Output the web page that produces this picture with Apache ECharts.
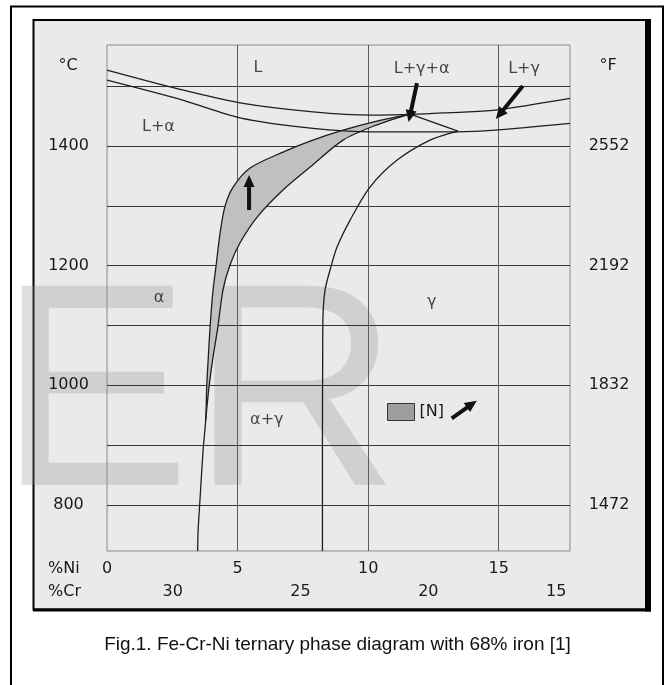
<!DOCTYPE html>
<html>
<head>
<meta charset="utf-8">
<script src="https://cdn.jsdelivr.net/npm/echarts@6/dist/echarts.min.js"></script>
<style>
html,body{margin:0;padding:0;background:#fff;}
#c{width:665px;height:685px;}
</style>
</head>
<body>
<div id="c"></div>
<script>
// ---------- data (Ni wt% , temperature °C) ----------
const T_MIN = 723, T_MAX = 1569;          // °C range of the plot
const NI_MIN = 0, NI_MAX = 17.73;         // %Ni range of the plot
const CR_MIN = 14.46, CR_MAX = 32.57;     // matching %Cr range (reversed)

const T_GRID = [800, 900, 1000, 1100, 1200, 1300, 1400, 1500];
const T_LABELS = [800, 1000, 1200, 1400];
const F_LABELS = [1472, 1832, 2192, 2552];
const NI_GRID = [5, 10, 15];
const NI_LABELS = [0, 5, 10, 15];
const CR_LABELS = [30, 25, 20, 15];

// liquidus (upper) and solidus (lower) curves
const LIQ_UPPER = [[0,1527.0],[2.80,1494.8],[5.09,1472.4],[7.89,1457.3],[10.15,1451.8],[11.72,1453.0],[13.14,1456.0],[14.86,1460.2],[17.73,1479.7]];
const LIQ_LOWER = [[0,1510.3],[2.80,1478.1],[5.09,1447.3],[7.89,1429.6],[10.15,1423.9],[13.40,1423.9],[14.86,1426.7],[17.73,1437.9]];

// shaded [N] band: upper-left edge and lower-right edge (tip -> merge)
const BAND_UPPER = [[11.61,1453.5],[10.26,1441.0],[9.04,1426.7],[7.78,1408.4],[6.74,1390.0],[5.48,1363.2],[4.83,1331.5],[4.52,1299.7],[4.33,1254.6],[4.18,1201.1],[4.05,1154.3],[3.95,1099.1],[3.88,1047.3],[3.82,998.9],[3.78,942.0]];
const BAND_LOWER = [[11.61,1453.5],[10.26,1434.3],[9.04,1410.0],[7.78,1364.9],[6.74,1326.5],[5.75,1281.3],[5.09,1237.9],[4.71,1201.1],[4.44,1159.3],[4.25,1099.1],[4.06,1047.3],[3.91,998.9],[3.78,942.0]];
// single boundary below the band
const FERRITE_LINE = [[3.78,942.0],[3.68,891.9],[3.56,808.3],[3.49,758.2],[3.47,723]];

// three-phase triangle edge and gamma boundary
const TRI_EDGE = [[11.61,1453.5],[13.44,1425.1]];
const GAMMA_LINE = [[13.44,1425.1],[12.37,1410.0],[11.11,1376.6],[10.07,1331.5],[9.31,1276.3],[8.81,1231.2],[8.54,1192.7],[8.35,1159.3],[8.27,1114.2],[8.26,1059.0],[8.25,900],[8.25,723]];

// arrows: [tailNi, tailT, headNi, headT]
const ARROWS = [
  [5.44,1293.0,5.44,1351.5],
  [11.87,1505.3,11.55,1440.1],
  [15.92,1500.3,14.89,1445.1],
  [13.20,944.9,14.16,974.3]
];

// phase field labels
const PHASE_NAMES = ['L','L+α','L+γ+α','L+γ','α','γ','α+γ'];
const PHASE_POS = [[5.78,1530.4],[1.97,1432.3],[12.05,1529.5],[15.97,1529.5],[1.99,1145.9],[12.44,1139.8],[6.12,942.0]];

const LEGEND_NAME = '[N]';
const CAPTION = 'Fig.1. Fe-Cr-Ni ternary phase diagram with 68% iron [1]';

// ---------- chart ----------
const FONT = '"DejaVu Sans", sans-serif';
const TXT = '#1a1a1a';
const cToF = c => c * 9 / 5 + 32;
const plain = v => String(v);

const chart = echarts.init(document.getElementById('c'), null, {renderer: 'canvas'});

const curveStyle = {color: '#1e1e1e', width: 1.3};
function curve(data) {
  return {type: 'line', data: data, smooth: 0.3, symbol: 'none', showSymbol: false,
          lineStyle: curveStyle, silent: true, z: 3, xAxisIndex: 0, yAxisIndex: 0};
}

const bandPolygon = BAND_UPPER.concat(BAND_LOWER.slice(1, -1).reverse());

const labelStyle = {fontFamily: FONT, fontSize: 16, color: TXT, formatter: plain};

const option = {
  animation: false,
  backgroundColor: '#ffffff',
  grid: {left: 107, top: 45, width: 463, height: 506, show: true, borderColor: '#8a8a8a',
         borderWidth: 1, backgroundColor: 'transparent', containLabel: false, outerBoundsMode: 'none'},
  xAxis: [
    {type: 'value', min: NI_MIN, max: NI_MAX, position: 'bottom',
     axisLine: {show: false}, axisTick: {show: false, customValues: NI_GRID},
     axisLabel: Object.assign({customValues: NI_LABELS, margin: 10}, labelStyle),
     splitLine: {show: true, lineStyle: {color: '#5e5e5e', width: 1}}},
    {type: 'value', min: CR_MIN, max: CR_MAX, inverse: true, position: 'bottom', offset: 23,
     axisLine: {show: false}, axisTick: {show: false},
     axisLabel: Object.assign({customValues: CR_LABELS, margin: 10}, labelStyle),
     splitLine: {show: false}}
  ],
  yAxis: [
    {type: 'value', min: T_MIN, max: T_MAX, position: 'left',
     axisLine: {show: false}, axisTick: {show: false, customValues: T_GRID},
     axisLabel: Object.assign({customValues: T_LABELS, margin: 38.5, align: 'center'}, labelStyle),
     splitLine: {show: true, lineStyle: {color: '#353535', width: 1.2}}},
    {type: 'value', min: cToF(T_MIN), max: cToF(T_MAX), position: 'right',
     axisLine: {show: false}, axisTick: {show: false},
     axisLabel: Object.assign({customValues: F_LABELS, margin: 39, align: 'center'}, labelStyle),
     splitLine: {show: false}}
  ],
  legend: {
    data: [{name: LEGEND_NAME, icon: 'rect', itemStyle: {color: '#9e9e9e', borderColor: '#333', borderWidth: 1}}],
    left: 387, top: 403, padding: 0, itemWidth: 27, itemHeight: 17, selectedMode: false,
    textStyle: {fontFamily: FONT, fontSize: 16, color: TXT}
  },
  graphic: [
    {type: 'rect', z: -30, silent: true, shape: {x: 11, y: 6.5, width: 652, height: 700},
     style: {fill: '#fff', stroke: '#000', lineWidth: 2}},
    {type: 'rect', z: -20, silent: true, shape: {x: 33.5, y: 20, width: 613, height: 589.5},
     style: {fill: '#e9eaea', stroke: '#000', lineWidth: 2}},
    {type: 'rect', z: -19, silent: true, shape: {x: 645, y: 19, width: 6, height: 592.5},
     style: {fill: '#000'}},
    {type: 'rect', z: -19, silent: true, shape: {x: 33, y: 608.5, width: 618, height: 3},
     style: {fill: '#000'}},
    {type: 'text', z: -5, silent: true, x: -2, y: 405,
     style: {text: 'ER', font: '289px "Liberation Sans", Arial, sans-serif', fill: 'rgba(150,150,150,0.30)',
             verticalAlign: 'middle', align: 'left'}},
    {type: 'text', z: 10, silent: true, x: 68, y: 66,
     style: {text: '°C', font: '16px ' + FONT, fill: TXT, align: 'center', verticalAlign: 'middle'}},
    {type: 'text', z: 10, silent: true, x: 608, y: 66,
     style: {text: '°F', font: '16px ' + FONT, fill: TXT, align: 'center', verticalAlign: 'middle'}},
    {type: 'text', z: 10, silent: true, x: 48, y: 569,
     style: {text: '%Ni', font: '16px ' + FONT, fill: TXT, align: 'left', verticalAlign: 'middle'}},
    {type: 'text', z: 10, silent: true, x: 48, y: 592,
     style: {text: '%Cr', font: '16px ' + FONT, fill: TXT, align: 'left', verticalAlign: 'middle'}},
    {type: 'text', z: 10, silent: true, x: 337.5, y: 645,
     style: {text: CAPTION, font: '19px "Liberation Sans", Arial, sans-serif', fill: '#111', align: 'center', verticalAlign: 'middle'}}
  ],
  series: [
    {
      type: 'custom', name: LEGEND_NAME, coordinateSystem: 'cartesian2d', xAxisIndex: 0, yAxisIndex: 0,
      data: [BAND_UPPER[0]], silent: true, z: 2,
      itemStyle: {color: '#c0c0c0'},
      renderItem: function (params, api) {
        const pts = bandPolygon.map(p => api.coord(p));
        return {type: 'polygon', shape: {points: pts, smooth: 0.3}, style: {fill: '#c0c0c0', stroke: null}};
      }
    },
    curve(LIQ_UPPER),
    curve(LIQ_LOWER),
    curve(BAND_UPPER.concat(FERRITE_LINE.slice(1))),
    curve(BAND_LOWER),
    Object.assign(curve(TRI_EDGE), {smooth: false}),
    curve(GAMMA_LINE),
    {
      type: 'custom', coordinateSystem: 'cartesian2d', xAxisIndex: 0, yAxisIndex: 0,
      data: ARROWS, silent: true, z: 6,
      renderItem: function (params, api) {
        const a = api.coord([api.value(0), api.value(1)]);
        const b = api.coord([api.value(2), api.value(3)]);
        const dx = b[0] - a[0], dy = b[1] - a[1];
        const len = Math.sqrt(dx * dx + dy * dy);
        const ux = dx / len, uy = dy / len, px = -uy, py = ux;
        const sw = 2, hw = 5.5, hl = 12;
        const hb = [b[0] - ux * hl, b[1] - uy * hl];
        const pts = [
          [a[0] + px * sw, a[1] + py * sw],
          [hb[0] + px * sw, hb[1] + py * sw],
          [hb[0] + px * hw, hb[1] + py * hw],
          [b[0], b[1]],
          [hb[0] - px * hw, hb[1] - py * hw],
          [hb[0] - px * sw, hb[1] - py * sw],
          [a[0] - px * sw, a[1] - py * sw]
        ];
        return {type: 'polygon', shape: {points: pts}, style: {fill: '#111'}};
      }
    },
    {
      type: 'scatter', xAxisIndex: 0, yAxisIndex: 0, silent: true, z: 7,
      data: PHASE_NAMES.map((n, i) => ({name: n, value: PHASE_POS[i]})),
      symbol: 'circle', symbolSize: 1, itemStyle: {color: 'rgba(0,0,0,0)'},
      label: {show: true, position: 'inside', formatter: '{b}', fontFamily: FONT, fontSize: 16, color: TXT}
    }
  ]
};

chart.setOption(option);
</script>
</body>
</html>
